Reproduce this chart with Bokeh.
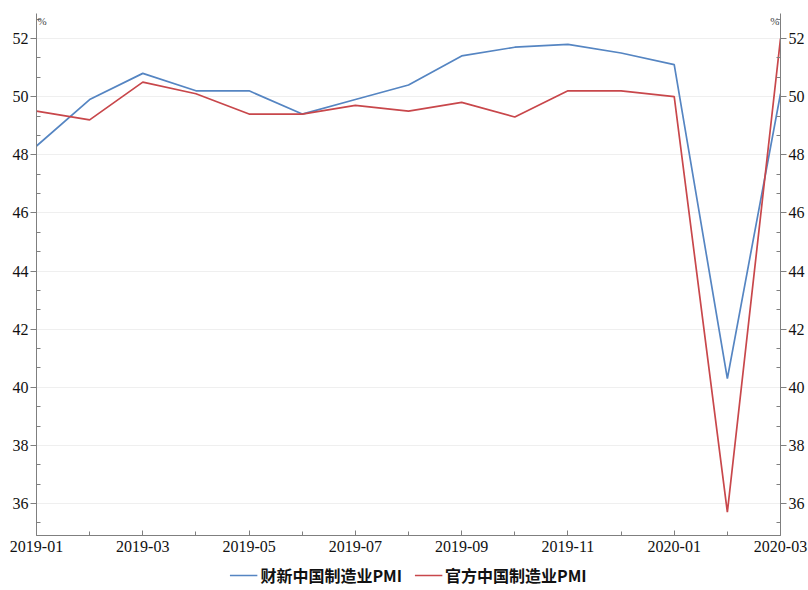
from bokeh.plotting import figure
from bokeh.layouts import column
from bokeh.models import (Range1d, LinearAxis, FixedTicker, Legend, LegendItem,
                          Label, ColumnDataSource)
from bokeh.embed import file_html
from bokeh.resources import INLINE

months = ["2019-01", "2019-02", "2019-03", "2019-04", "2019-05", "2019-06", "2019-07",
          "2019-08", "2019-09", "2019-10", "2019-11", "2019-12", "2020-01", "2020-02",
          "2020-03"]
caixin_pmi = [48.3, 49.9, 50.8, 50.2, 50.2, 49.4, 49.9, 50.4, 51.4, 51.7, 51.8, 51.5,
              51.1, 40.3, 50.1]
official_pmi = [49.5, 49.2, 50.5, 50.1, 49.4, 49.4, 49.7, 49.5, 49.8, 49.3, 50.2, 50.2,
                50.0, 35.7, 52.0]
y_ticks = [36, 38, 40, 42, 44, 46, 48, 50, 52]
series_names = ["财新中国制造业PMI", "官方中国制造业PMI"]

idx = list(range(len(months)))
src = ColumnDataSource(dict(x=idx, caixin=caixin_pmi, official=official_pmi))

BLUE = "#5585c2"
RED = "#c8474b"
AXIS = "#7f7f7f"
SERIF = "Liberation Serif"

p = figure(frame_width=744, frame_height=522, output_backend="svg", toolbar_location=None,
           x_range=Range1d(0, len(months) - 1), y_range=Range1d(34.9, 52.86),
           min_border_left=36, min_border_right=28, min_border_top=13,
           min_border_bottom=0, outline_line_color=None)

r1 = p.line("x", "caixin", source=src, line_color=BLUE, line_width=1.7)
r2 = p.line("x", "official", source=src, line_color=RED, line_width=1.7)

# x axis
xa = p.xaxis[0]
xa.ticker = FixedTicker(ticks=idx[::2], minor_ticks=idx)
xa.major_label_overrides = {i: months[i] for i in idx[::2]}
xa.major_tick_in = 5
xa.major_tick_out = 0
xa.minor_tick_in = 4
xa.minor_tick_out = 0
xa.major_label_standoff = 5
xa.axis_line_color = AXIS
xa.major_tick_line_color = AXIS
xa.minor_tick_line_color = AXIS
xa.major_label_text_font = SERIF
xa.major_label_text_font_size = "16px"
xa.major_label_text_color = "#111111"


def style_y(ax):
    ax.ticker = FixedTicker(ticks=y_ticks,
                            minor_ticks=[t + d for t in [34] + y_ticks for d in (2 / 3, 4 / 3)])
    ax.major_tick_in = 0
    ax.major_tick_out = 6
    ax.minor_tick_in = 4
    ax.minor_tick_out = 0
    ax.major_label_standoff = 2
    ax.axis_line_color = AXIS
    ax.major_tick_line_color = AXIS
    ax.minor_tick_line_color = AXIS
    ax.major_label_text_font = SERIF
    ax.major_label_text_font_size = "16px"
    ax.major_label_text_color = "#111111"


style_y(p.yaxis[0])
ra = LinearAxis()
style_y(ra)
p.add_layout(ra, "right")

p.xgrid.visible = False
p.ygrid.ticker = FixedTicker(ticks=y_ticks)
p.ygrid.grid_line_color = "#efefef"

p.add_layout(Label(x=0, y=52.86, text="%", x_offset=1, y_offset=-1, text_baseline="top",
                   text_align="left", text_font=SERIF, text_font_size="11px",
                   text_color="#444444"))
p.add_layout(Label(x=len(months) - 1, y=52.86, text="%", x_offset=-1, y_offset=-1,
                   text_baseline="top", text_align="right", text_font=SERIF,
                   text_font_size="11px", text_color="#444444"))

# legend strip underneath the chart (its proxy lines lie outside its visible range)
lg = figure(width=808, height=42, output_backend="svg", toolbar_location=None,
            x_range=Range1d(0, 1), y_range=Range1d(0, 1), min_border_left=10,
            min_border_right=0, min_border_top=0, min_border_bottom=0,
            outline_line_color=None)
lg.axis.visible = False
lg.grid.visible = False
k1 = lg.line("x", "caixin", source=src, line_color=BLUE, line_width=1.7)
k2 = lg.line("x", "official", source=src, line_color=RED, line_width=1.7)

legend = Legend(items=[LegendItem(label=series_names[0], renderers=[k1]),
                       LegendItem(label=series_names[1], renderers=[k2])],
                orientation="horizontal", location="center",
                label_text_font="Noto Sans CJK SC", label_text_font_style="bold",
                label_text_font_size="16px", label_text_color="#111111",
                glyph_width=28, label_standoff=3, spacing=12, padding=0,
                margin=0, border_line_color=None, background_fill_alpha=0,
                label_height=16, glyph_height=16)
lg.add_layout(legend, "center")

layout = column(p, lg, spacing=0)
open("out.html", "w").write(file_html(layout, INLINE))
